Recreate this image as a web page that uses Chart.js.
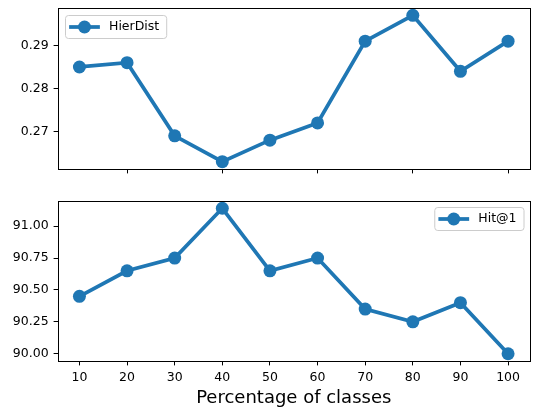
<!DOCTYPE html>
<html>
<head>
<meta charset="utf-8">
<script src="https://cdn.jsdelivr.net/npm/chart.js@4/dist/chart.umd.min.js"></script>
<style>
    html, body { margin: 0; padding: 0; background: #fff; }
    #wrap { position: relative; width: 536px; height: 412px; }
    #atas { position: absolute; left: 0; top: 0; }
    #bawah { position: absolute; left: 0; top: 185px; }
</style>
</head>
<body>
<div id="wrap">
    <canvas id="atas" width="536" height="185"></canvas>
    <canvas id="bawah" width="536" height="227"></canvas>
</div>
<script>
const persen = [10, 20, 30, 40, 50, 60, 70, 80, 90, 100];
const hierDist = [0.285, 0.286, 0.269, 0.263, 0.268, 0.272, 0.291, 0.297, 0.284, 0.291];
const hit1 = [90.45, 90.65, 90.75, 91.14, 90.65, 90.75, 90.35, 90.25, 90.40, 90.00];
const tickXAtas = [20, 40, 60, 80, 100];
const tickXBawah = [10, 20, 30, 40, 50, 60, 70, 80, 90, 100];
const tickAtas = [0.27, 0.28, 0.29];
const tickBawah = [90.0, 90.25, 90.5, 90.75, 91.0];

const biru = "#1f77b4";
const hurufDasar = "'DejaVu Sans', sans-serif";

Chart.defaults.font.family = hurufDasar;
Chart.defaults.color = "#000";

// batas sumbu gaya matplotlib (margin 5%)
function batas(nilai) {
    const min = Math.min(...nilai);
    const max = Math.max(...nilai);
    const m = (max - min) * 0.05;
    return { min: min - m, max: max + m };
}

const pluginBingkai = {
    id: "bingkai",
    afterDatasetsDraw(chart) {
        const { ctx, chartArea: a } = chart;
        ctx.save();
        ctx.strokeStyle = "#000";
        ctx.lineWidth = 1;
        ctx.strokeRect(Math.round(a.left) + 0.5, Math.round(a.top) + 0.5,
            Math.round(a.right - a.left), Math.round(a.bottom - a.top));
        ctx.restore();
    },
};

const pluginLegenda = {
    id: "legendaDalam",
    afterDraw(chart, args, opts) {
        const { ctx, chartArea: a } = chart;
        const label = chart.data.datasets[0].label;
        ctx.save();
        ctx.font = "12.5px " + hurufDasar;
        const lebarTeks = ctx.measureText(label).width;
        const w = 4 + 31 + 9 + lebarTeks + 7;
        const h = 23;
        const x = opts.kanan ? a.right - 6 - w : a.left + 7;
        const y = a.top + (opts.kanan ? 6 : 7);

        ctx.beginPath();
        ctx.roundRect(x + 0.5, y + 0.5, w, h, 3);
        ctx.fillStyle = "rgba(255,255,255,0.8)";
        ctx.fill();
        ctx.strokeStyle = "#cccccc";
        ctx.lineWidth = 1;
        ctx.stroke();

        const cy = y + h / 2 + 0.5;
        ctx.strokeStyle = biru;
        ctx.lineWidth = 3.75;
        ctx.lineCap = "square";
        ctx.beginPath();
        ctx.moveTo(x + 6, cy);
        ctx.lineTo(x + 33, cy);
        ctx.stroke();

        ctx.fillStyle = biru;
        ctx.beginPath();
        ctx.arc(x + 19.5, cy, 6.5, 0, Math.PI * 2);
        ctx.fill();

        ctx.fillStyle = "#000";
        ctx.textBaseline = "middle";
        ctx.fillText(label, x + 44, cy);
        ctx.restore();
    },
};

function buatGrafik(id, label, nilai, tickX, tickY, opsi) {
    const b = batas(nilai);
    return new Chart(document.getElementById(id), {
        type: "line",
        data: {
            datasets: [
                {
                    label: label,
                    data: persen.map((p, i) => ({ x: p, y: nilai[i] })),
                    borderColor: biru,
                    backgroundColor: biru,
                    borderWidth: 3.75,
                    pointRadius: 6.5,
                    pointHoverRadius: 6.5,
                    pointBorderWidth: 0,
                    tension: 0,
                    clip: false,
                },
            ],
        },
        options: {
            responsive: false,
            animation: false,
            events: [],
            layout: {
                padding: { left: 0, right: 6, top: opsi.atas, bottom: 0 },
            },
            plugins: {
                legend: { display: false },
                tooltip: { enabled: false },
                legendaDalam: { kanan: opsi.kanan },
            },
            scales: {
                x: {
                    type: "linear",
                    min: 5.5,
                    max: 104.5,
                    afterBuildTicks: (s) => {
                        s.ticks = tickX.map((v) => ({ value: v }));
                    },
                    afterFit: (s) => {
                        s.height = opsi.tinggiX;
                        s.paddingLeft = 0;
                        s.paddingRight = 0;
                    },
                    grid: {
                        display: true,
                        drawOnChartArea: false,
                        drawTicks: true,
                        tickLength: 4.4,
                        color: "#000",
                    },
                    border: { display: false },
                    ticks: {
                        display: opsi.labelX,
                        padding: 5,
                        font: { size: 12.5 },
                        maxRotation: 0,
                    },
                    title: {
                        display: opsi.labelX,
                        text: "Percentage of classes",
                        font: { size: 18 },
                        padding: { top: 0, bottom: 3 },
                    },
                },
                y: {
                    min: b.min,
                    max: b.max,
                    afterBuildTicks: (s) => {
                        s.ticks = tickY.map((v) => ({ value: v }));
                    },
                    afterFit: (s) => {
                        s.width = 58;
                        s.paddingTop = 0;
                        s.paddingBottom = 0;
                    },
                    grid: {
                        display: true,
                        drawOnChartArea: false,
                        drawTicks: true,
                        tickLength: 4.4,
                        color: "#000",
                    },
                    border: { display: false },
                    ticks: {
                        padding: 5,
                        font: { size: 12.5 },
                        callback: (v) => Number(v).toFixed(2),
                    },
                },
            },
        },
        plugins: [pluginBingkai, pluginLegenda],
    });
}

buatGrafik("atas", "HierDist", hierDist, tickXAtas, tickAtas, {
    atas: 8,
    tinggiX: 16,
    labelX: false,
    kanan: false,
});

buatGrafik("bawah", "Hit@1", hit1, tickXBawah, tickBawah, {
    atas: 16,
    tinggiX: 51,
    labelX: true,
    kanan: true,
});
</script>
</body>
</html>
